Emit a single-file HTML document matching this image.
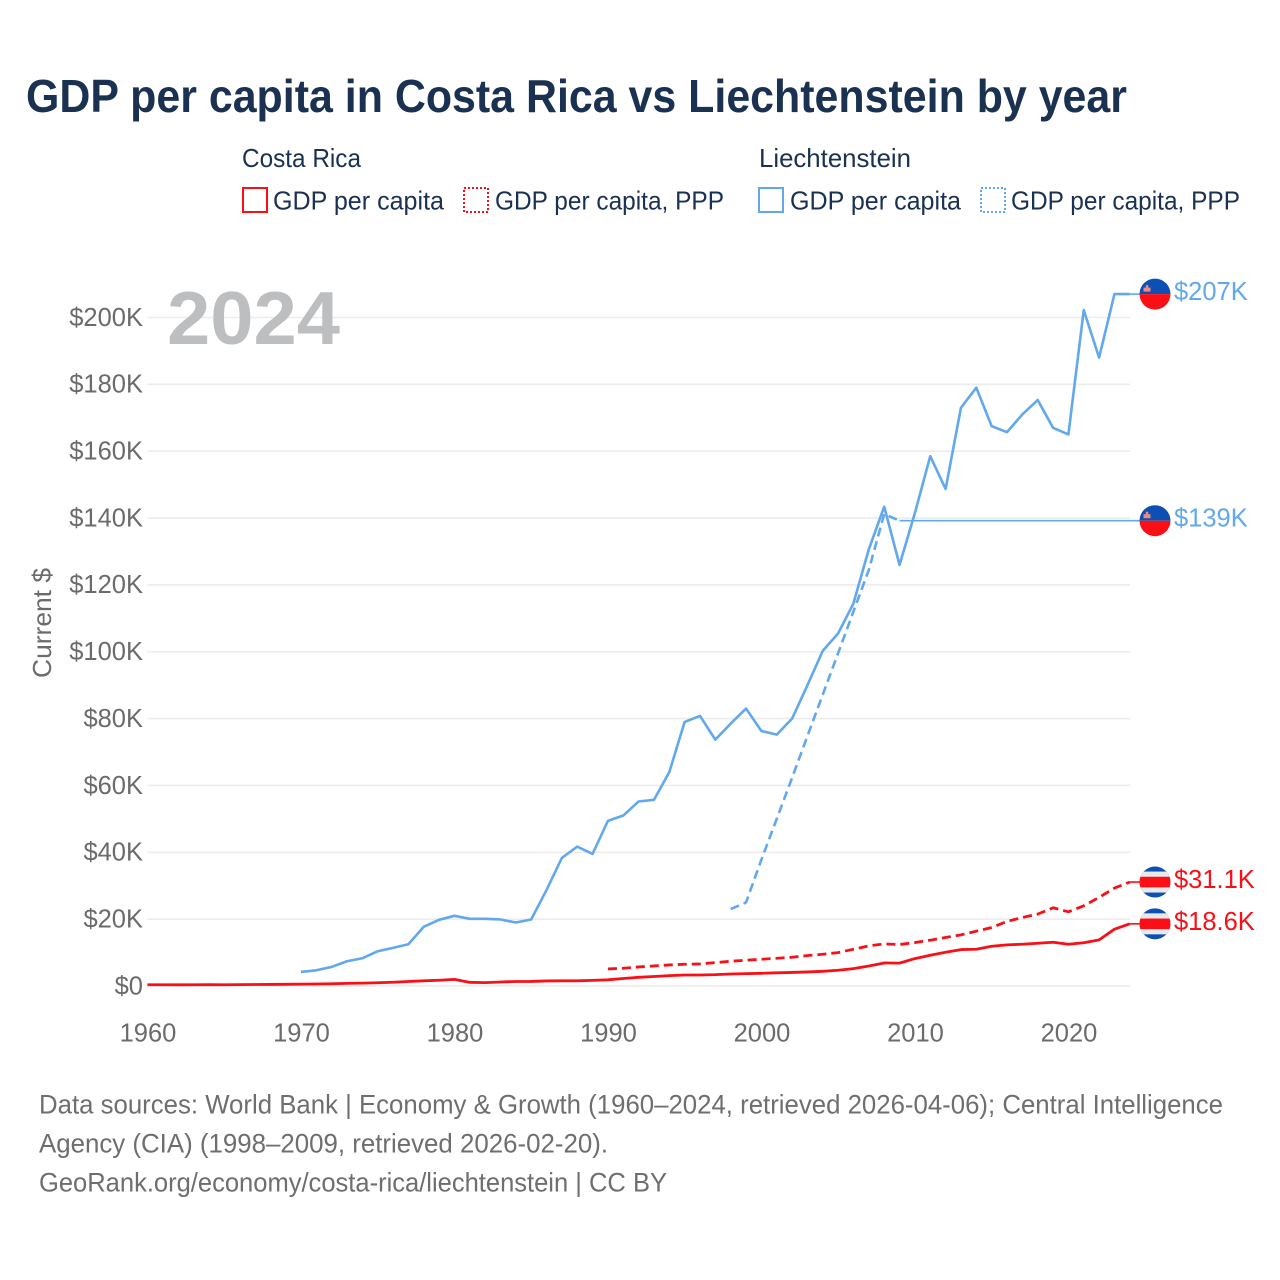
<!DOCTYPE html>
<html lang="en">
<head>
<meta charset="utf-8">
<title>GDP per capita in Costa Rica vs Liechtenstein by year</title>
<style>
html,body{margin:0;padding:0;background:#fff;width:1280px;height:1280px;overflow:hidden}
svg{display:block}
text{font-family:"Liberation Sans",sans-serif}
</style>
</head>
<body>
<svg id="chart" xmlns="http://www.w3.org/2000/svg" width="1280" height="1280" viewBox="0 0 1280 1280">
  <defs>
    <clipPath id="flag-clip"><circle cx="0" cy="0" r="15.5"/></clipPath>
  </defs>
  <text x="26" y="112" font-size="46" font-weight="700" fill="#1a3152" textLength="1101" lengthAdjust="spacingAndGlyphs">GDP per capita in Costa Rica vs Liechtenstein by year</text>

  <g font-size="26" fill="#1a3152">
    <text x="242" y="167" textLength="119" lengthAdjust="spacingAndGlyphs">Costa Rica</text>
    <text x="759" y="167" textLength="152" lengthAdjust="spacingAndGlyphs">Liechtenstein</text>
    <g>
      <rect x="243" y="188" width="24" height="24" fill="none" stroke="#fa0f17" stroke-width="2"/>
      <text x="273" y="209.5" textLength="171" lengthAdjust="spacingAndGlyphs">GDP per capita</text>
    </g>
    <g>
      <rect x="464" y="188" width="24" height="24" fill="none" stroke="#fa0f17" stroke-width="2" stroke-dasharray="2 2"/>
      <text x="495" y="209.5" textLength="229" lengthAdjust="spacingAndGlyphs">GDP per capita, PPP</text>
    </g>
    <g>
      <rect x="759" y="188" width="24" height="24" fill="none" stroke="#62a8ec" stroke-width="2"/>
      <text x="790" y="209.5" textLength="171" lengthAdjust="spacingAndGlyphs">GDP per capita</text>
    </g>
    <g>
      <rect x="981" y="188" width="24" height="24" fill="none" stroke="#62a8ec" stroke-width="2" stroke-dasharray="2 2"/>
      <text x="1011" y="209.5" textLength="229" lengthAdjust="spacingAndGlyphs">GDP per capita, PPP</text>
    </g>
  </g>

  <g id="grid"></g>
  <text x="167" y="344" font-size="75" font-weight="700" fill="#bcbec0" textLength="173" lengthAdjust="spacingAndGlyphs">2024</text>
  <g id="y-ticks"></g>
  <g id="x-ticks"></g>
  <text transform="translate(51,623) rotate(-90)" text-anchor="middle" font-size="26" fill="#6b6b6b" textLength="110" lengthAdjust="spacingAndGlyphs">Current $</text>
  <g id="series"></g>
  <g id="ends"></g>

  <g font-size="27" fill="#6e6e6e">
    <text x="39" y="1113.5" textLength="1184" lengthAdjust="spacingAndGlyphs">Data sources: World Bank | Economy &amp; Growth (1960–2024, retrieved 2026-04-06); Central Intelligence</text>
    <text x="39" y="1152.5" textLength="569" lengthAdjust="spacingAndGlyphs">Agency (CIA) (1998–2009, retrieved 2026-02-20).</text>
    <text x="39" y="1191.5" textLength="628" lengthAdjust="spacingAndGlyphs">GeoRank.org/economy/costa-rica/liechtenstein | CC BY</text>
  </g>
</svg>
<script>
const xTickYears = [1960, 1970, 1980, 1990, 2000, 2010, 2020];
const yTickValues = [0, 20, 40, 60, 80, 100, 120, 140, 160, 180, 200];
const yTickLabels = ["$0", "$20K", "$40K", "$60K", "$80K", "$100K", "$120K", "$140K", "$160K", "$180K", "$200K"];

const crGdpStart = 1960;
const crGdp = [0.38, 0.37, 0.36, 0.38, 0.39, 0.38, 0.41, 0.44, 0.47, 0.5, 0.55, 0.6, 0.68, 0.78, 0.85, 0.98, 1.13, 1.35, 1.55, 1.72, 1.98, 1.1, 1.02, 1.2, 1.35, 1.37, 1.52, 1.55, 1.55, 1.68, 1.85, 2.25, 2.6, 2.85, 3.1, 3.3, 3.3, 3.4, 3.6, 3.7, 3.8, 3.95, 4.05, 4.2, 4.4, 4.7, 5.2, 6.0, 6.9, 6.85, 8.2, 9.2, 10.1, 10.9, 11.0, 11.9, 12.3, 12.5, 12.8, 13.1, 12.5, 12.95, 13.8, 17.0, 18.6];

const crPppStart = 1990;
const crPpp = [5.1, 5.3, 5.7, 6.0, 6.3, 6.5, 6.6, 7.0, 7.4, 7.7, 8.0, 8.3, 8.6, 9.1, 9.5, 10.0, 11.0, 12.0, 12.6, 12.4, 13.0, 13.7, 14.5, 15.3, 16.4, 17.5, 19.3, 20.5, 21.5, 23.4, 22.2, 24.0, 26.5, 29.3, 31.1];

const liGdpStart = 1970;
const liGdp = [4.2, 4.7, 5.7, 7.4, 8.3, 10.4, 11.4, 12.5, 17.7, 19.8, 21.0, 20.1, 20.1, 19.9, 19.0, 19.9, 28.7, 38.3, 41.7, 39.5, 49.4, 51.0, 55.2, 55.7, 64.0, 79.0, 80.8, 73.7, 78.5, 83.0, 76.3, 75.2, 80.0, 90.0, 100.3, 105.5, 114.5, 130.7, 143.4, 126.0, 141.5, 158.5, 148.7, 173.0, 179.0, 167.5, 165.7, 171.0, 175.3, 167.0, 165.0, 202.2, 188.0, 207.0, 207.0];

const liPppStart = 1998;
const liPpp = [23.0, 25.0, 37.8, 50.0, 62.3, 74.8, 87.2, 99.6, 112.1, 124.5, 141.2, 139.2];

const endLabels = ["$207K", "$139K", "$31.1K", "$18.6K"];

const NS = "http://www.w3.org/2000/svg";
const RED = "#fa0f17";
const BLUE = "#62a8ec";
const xScale = (year) => 147.4 + (year - 1960) * 15.35;
const yScale = (k) => 986 - k * 3.3425;
const END_X = 1140;

function make(tag, attrs, parent) {
  const el = document.createElementNS(NS, tag);
  for (const key in attrs) el.setAttribute(key, attrs[key]);
  parent.appendChild(el);
  return el;
}

const gridG = document.getElementById("grid");
const yTicksG = document.getElementById("y-ticks");
const xTicksG = document.getElementById("x-ticks");
const seriesG = document.getElementById("series");
const endsG = document.getElementById("ends");

yTickValues.forEach((v, i) => {
  const line = make("line", {x1: 147.4, x2: 1130, y1: yScale(v), y2: yScale(v), stroke: "#ececec", "stroke-width": 1.6}, gridG);
  
  
  const label = make("text", {x: 143, y: yScale(v) + 8.3, "text-anchor": "end", "font-size": 25.5, fill: "#6b6b6b"}, yTicksG);
  label.textContent = yTickLabels[i];
  
  
});

xTickYears.forEach((yr) => {
  const label = make("text", {x: xScale(yr) + 0.6, y: 1041.5, "text-anchor": "middle", "font-size": 25.5, fill: "#6b6b6b"}, xTicksG);
  label.textContent = String(yr);
  
  
});

function pathFor(values, start) {
  return values.map((v, i) => (i ? "L" : "M") + xScale(start + i).toFixed(2) + " " + yScale(v).toFixed(2)).join(" ");
}

function connector(values, start, color) {
  const last = values[values.length - 1];
  const yr = start + values.length - 1;
  const c = make("line", {x1: xScale(yr), x2: END_X, y1: yScale(last), y2: yScale(last), stroke: color, "stroke-width": 1.6}, seriesG);
  
  
}

const p1 = make("path", {d: pathFor(liGdp, liGdpStart), fill: "none", stroke: BLUE, "stroke-width": 2.6, "stroke-linejoin": "round"}, seriesG);


const p2 = make("path", {d: pathFor(liPpp, liPppStart), fill: "none", stroke: BLUE, "stroke-width": 2.6, "stroke-dasharray": "9 5", "stroke-linejoin": "round"}, seriesG);


const p3 = make("path", {d: pathFor(crGdp, crGdpStart), fill: "none", stroke: RED, "stroke-width": 2.8, "stroke-linejoin": "round"}, seriesG);


const p4 = make("path", {d: pathFor(crPpp, crPppStart), fill: "none", stroke: RED, "stroke-width": 2.8, "stroke-dasharray": "9 5", "stroke-linejoin": "round"}, seriesG);



connector(liGdp, liGdpStart, BLUE);
connector(liPpp, liPppStart, BLUE);
connector(crPpp, crPppStart, RED);
connector(crGdp, crGdpStart, RED);

function liFlag(cy) {
  const g = make("g", {transform: "translate(1155," + cy + ")", "clip-path": "url(#flag-clip)"}, endsG);
  
  
  make("rect", {x: -16, y: -16, width: 32, height: 16, fill: "#0b50b2"}, g);
  make("rect", {x: -16, y: 0, width: 32, height: 16, fill: RED}, g);
  make("rect", {x: -11.5, y: -6.5, width: 7, height: 4, fill: "#f08a80"}, g);
  make("rect", {x: -9.2, y: -9, width: 2.5, height: 3, fill: "#f08a80"}, g);
}

function crFlag(cy) {
  const g = make("g", {transform: "translate(1155," + cy + ")", "clip-path": "url(#flag-clip)"}, endsG);
  
  
  make("rect", {x: -16, y: -16, width: 32, height: 32, fill: "#0b50b2"}, g);
  make("rect", {x: -16, y: -10.5, width: 32, height: 21, fill: "#e9e9e9"}, g);
  make("rect", {x: -16, y: -5.3, width: 32, height: 10.6, fill: RED}, g);
}

function endLabel(text, cy, color) {
  const t = make("text", {x: 1174, y: cy + 6, "font-size": 25.5, fill: color}, endsG);
  t.textContent = text;
  
  
}

const liGdpEndY = yScale(liGdp[liGdp.length - 1]);
const liPppEndY = yScale(liPpp[liPpp.length - 1]);
const crPppEndY = yScale(crPpp[crPpp.length - 1]);
const crGdpEndY = yScale(crGdp[crGdp.length - 1]);

liFlag(liGdpEndY);
liFlag(liPppEndY);
crFlag(crPppEndY);
crFlag(crGdpEndY);
endLabel(endLabels[0], liGdpEndY, BLUE);
endLabel(endLabels[1], liPppEndY, BLUE);
endLabel(endLabels[2], crPppEndY, RED);
endLabel(endLabels[3], crGdpEndY, RED);
</script>
</body>
</html>
